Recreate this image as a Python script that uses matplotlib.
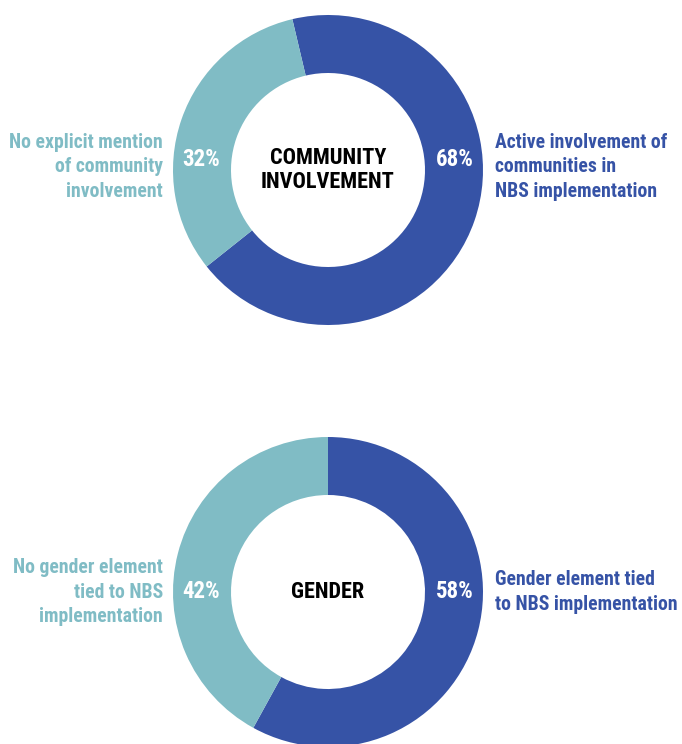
import matplotlib
matplotlib.use("Agg")
import matplotlib.pyplot as plt

plt.rcParams['font.family'] = ['Roboto Condensed', 'Roboto', 'DejaVu Sans']

# Data
titles = ["COMMUNITY\nINVOLVEMENT", "GENDER"]
community_values = [68, 32]
gender_values = [58, 42]
community_labels = ["Active involvement of\ncommunities in\nNBS implementation",
                    "No explicit mention\nof community\ninvolvement"]
gender_labels = ["Gender element tied\nto NBS implementation",
                 "No gender element\ntied to NBS\nimplementation"]

DARK = "#3653A6"
LIGHT = "#80BCC5"
W, H = 682, 744

fig = plt.figure(figsize=(W / 100, H / 100), dpi=100)
ax = fig.add_axes([0, 0, 1, 1])

R = 155
WIDTH = 58
FS_LAB = 14.2
FS_PCT = 16.5
FS_TITLE = 16

def donut(cy_px, values, labels, title, start, label_y, pct_y):
    cy = H - cy_px
    cx = 328
    ax.pie(values, colors=[DARK, LIGHT], startangle=start, counterclock=False,
           center=(cx, cy), radius=R, wedgeprops=dict(width=WIDTH, edgecolor='none'),
           frame=True)
    ax.text(cx + 127, H - pct_y, f"{values[0]}%", color='white', fontsize=FS_PCT,
            fontweight='bold', ha='center', va='center')
    ax.text(cx - 127, H - pct_y, f"{values[1]}%", color='white', fontsize=FS_PCT,
            fontweight='bold', ha='center', va='center')
    ax.text(495, H - label_y, labels[0], color=DARK, fontsize=FS_LAB,
            fontweight='bold', ha='left', va='center', linespacing=1.38)
    ax.text(163, H - label_y, labels[1], color=LIGHT, fontsize=FS_LAB,
            fontweight='bold', ha='right', va='center', linespacing=1.38,
            multialignment='right')
    ax.text(cx, cy, title, color='black', fontsize=FS_TITLE, fontweight='bold',
            ha='center', va='center', linespacing=1.15)

donut(170, community_values, community_labels, titles[0], 103.3, 167, 159)
donut(592, gender_values, gender_labels, titles[1], 90, 592, 592)

ax.set_xlim(0, W)
ax.set_ylim(0, H)
ax.set_aspect('equal')
ax.axis('off')

fig.savefig("out.png", dpi=100)
